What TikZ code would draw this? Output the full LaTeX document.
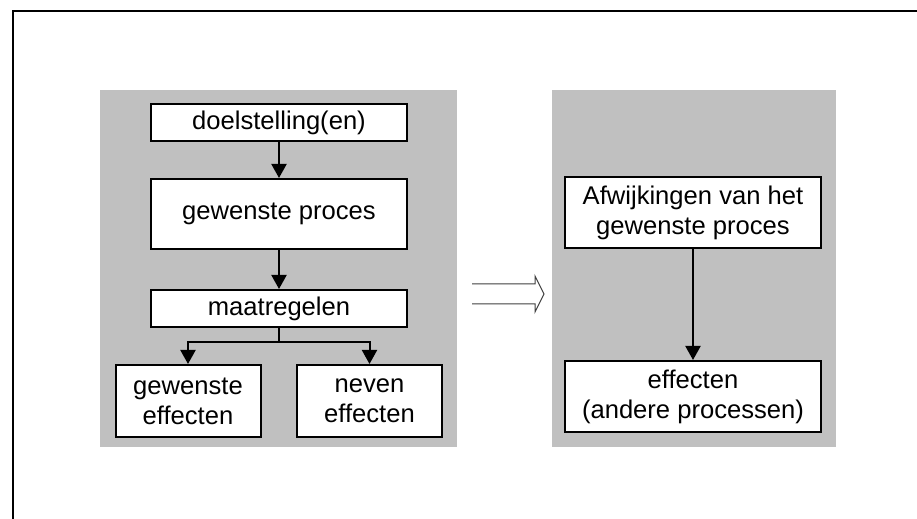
\documentclass[tikz,border=0pt]{standalone}
\usepackage{fontspec}
\setmainfont{Liberation Sans}
\usepackage{xcolor}
\usetikzlibrary{arrows.meta}
\usetikzlibrary{positioning}
\tikzset{font={\fontsize{12.8pt}{15pt}\selectfont}}
\definecolor{panelgray}{RGB}{192,192,192}
\tikzset{
  panel/.style={fill=panelgray, draw=none, inner sep=0pt, outer sep=0pt, anchor=north west},
  box/.style={draw, fill=white, line width=1pt, inner sep=0pt, align=center, minimum width=128pt},
  small/.style={box, minimum height=18.5pt},
  tall/.style={box, minimum height=35pt},
  effbox/.style={box, minimum width=72.5pt, minimum height=36pt},
  arr/.style={-{Triangle[length=7pt,width=7.5pt]}, line width=1pt},
}

\begin{document}
\begin{tikzpicture}[x=0.5pt,y=0.5pt]
  \useasboundingbox (0,0) rectangle (917,519);
  % Frame
  \draw[line width=1pt] (13,0) -- (13,508) -- (917,508);

  % Panels
  \node[panel, minimum width=178.5pt, minimum height=178.5pt] (lpanel) at (100,429) {};
  \node[panel, minimum width=142pt, minimum height=178.5pt] (rpanel) at (552,429) {};

  % Define nodes
  \node[small] (doel) at (279,396.5) {doelstelling(en)};
  \node[tall, below=18pt of doel] (proces) {gewenste proces};
  \node[small, below=19.5pt of proces] (maat) {maatregelen};
  \node[effbox, below=18pt of maat, xshift=-45.5pt] (gew) {gewenste\\effecten};
  \node[effbox, below=18pt of maat, xshift=45.25pt] (neven) {neven\\effecten};
  \node[tall, minimum height=35.5pt] (afw) at (693,306.5) {Afwijkingen van het\\gewenste proces};
  \node[tall, minimum height=35.5pt, below=55.5pt of afw] (eff) {effecten\\(andere processen)};

  % Connect the nodes
  \draw[arr] (doel) -- (proces);
  \draw[arr] (proces) -- (maat);
  \draw[arr] (maat.south) -- ++(0,-14) -| (gew.north);
  \draw[arr] (maat.south) -- ++(0,-14) -| (neven.north);
  \draw[arr] (afw) -- (eff);

  % Between the panels
  \coordinate (dstart) at (472,225.5);
  \draw[line width=0.5pt, draw=black!75, fill=white]
    (dstart) ++(0,9.5) -- ++(63,0) -- ++(0,8) -- ++(9,-18) -- ++(-9,-18) -- ++(0,8) -- ++(-63,0);
\end{tikzpicture}
\end{document}
